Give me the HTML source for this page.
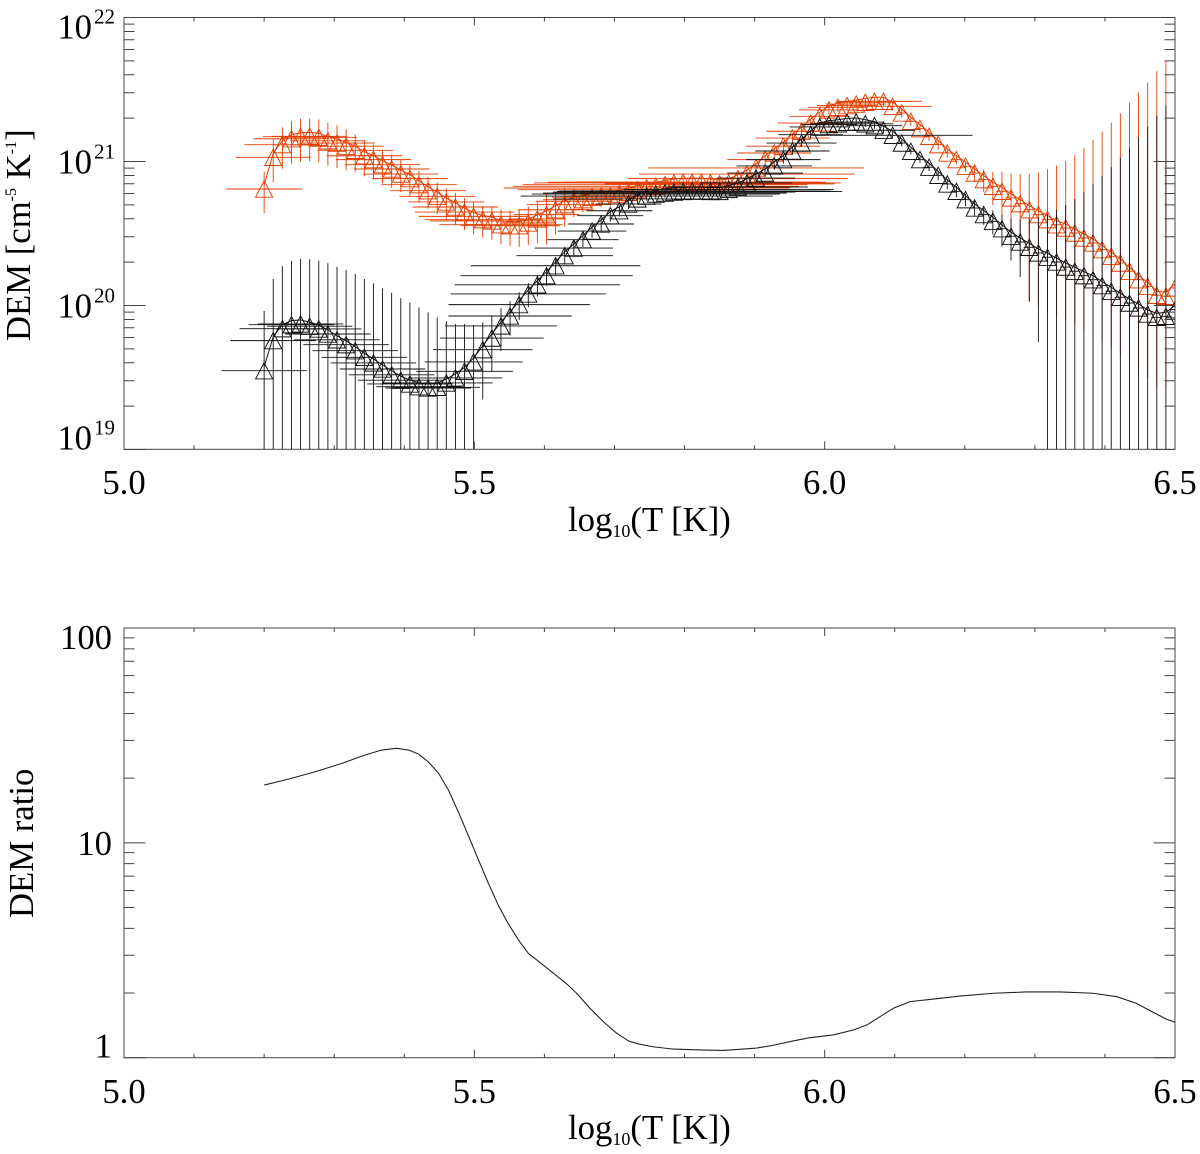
<!DOCTYPE html>
<html lang="en">
<head>
<meta charset="utf-8">
<title>DEM and DEM ratio</title>
<style>
html,body{margin:0;padding:0;background:#fff;}
#figure{display:block;width:1200px;height:1154px;}
text{font-family:"Liberation Serif","DejaVu Serif",serif;fill:#000;}
</style>
</head>
<body>
<svg id="figure" xmlns="http://www.w3.org/2000/svg" width="1200" height="1154" viewBox="0 0 1200 1154">
  <rect x="0" y="0" width="1200" height="1154" fill="#fff"/>
  <defs>
    <clipPath id="clip-top"><rect x="124" y="17.5" width="1051" height="431.8"/></clipPath>
    <clipPath id="clip-bottom"><rect x="124" y="628" width="1051" height="429.7"/></clipPath>
  </defs>
  <g id="top-panel"></g>
  <g id="bottom-panel"></g>
  <text x="568" y="531" font-size="34.7">log<tspan font-size="18" dy="6">10</tspan><tspan dy="-6">(T [K])</tspan></text>
  <text x="568" y="1139" font-size="34.7">log<tspan font-size="18" dy="6">10</tspan><tspan dy="-6">(T [K])</tspan></text>
  <text transform="translate(30,341) rotate(-90)" font-size="34.7">DEM [cm<tspan font-size="16" dy="-14">-5</tspan><tspan dy="14"> K</tspan><tspan font-size="16" dy="-14">-1</tspan><tspan dy="14">]</tspan></text>
  <text transform="translate(33,918) rotate(-90)" font-size="34.7">DEM ratio</text>
</svg>
<script>
// Temperature grid shared by both DEM series (log10 T)
var logTemps = [
5.200,5.213,5.226,5.239,5.252,5.265,5.278,5.291,5.304,5.317,
5.330,5.343,5.356,5.369,5.382,5.395,5.408,5.421,5.434,5.447,
5.460,5.473,5.486,5.499,5.512,5.525,5.538,5.551,5.564,5.577,
5.590,5.603,5.616,5.629,5.642,5.655,5.668,5.681,5.694,5.707,
5.720,5.733,5.746,5.759,5.772,5.785,5.798,5.811,5.824,5.837,
5.850,5.863,5.876,5.889,5.902,5.915,5.928,5.941,5.954,5.967,
5.980,5.993,6.006,6.019,6.032,6.045,6.058,6.071,6.084,6.097,
6.110,6.123,6.136,6.149,6.162,6.175,6.188,6.201,6.214,6.227,
6.240,6.253,6.266,6.279,6.292,6.305,6.318,6.331,6.344,6.357,
6.370,6.383,6.396,6.409,6.422,6.435,6.448,6.461,6.474,6.487,
6.500];

// Red series: log10 DEM
var redLogDem = [
20.809,21.029,21.117,21.158,21.172,21.175,21.168,21.144,21.128,21.106,
21.078,21.040,21.013,20.978,20.948,20.913,20.881,20.839,20.797,20.758,
20.719,20.684,20.649,20.619,20.596,20.587,20.561,20.554,20.554,20.573,
20.601,20.631,20.665,20.700,20.724,20.735,20.751,20.758,20.762,20.774,
20.786,20.804,20.816,20.828,20.839,20.851,20.856,20.856,20.856,20.851,
20.844,20.851,20.881,20.913,20.955,21.013,21.059,21.106,21.163,21.210,
21.267,21.314,21.358,21.376,21.388,21.399,21.411,21.418,21.418,21.383,
21.337,21.279,21.228,21.175,21.117,21.059,21.013,20.967,20.920,20.874,
20.828,20.793,20.747,20.707,20.665,20.631,20.596,20.561,20.538,20.503,
20.469,20.434,20.388,20.342,20.295,20.238,20.179,20.133,20.071,20.064,
20.122];
// Red series: fractional upper DEM error
var redErrUp = [
.32,.33,.32,.33,.33,.33,.33,.33,.33,.32,
.29,.28,.27,.26,.26,.25,.25,.25,.25,.25,
.25,.25,.25,.25,.25,.26,.27,.28,.29,.30,
.32,.38,.33,.30,.22,.18,.17,.16,.15,.14,
.12,.11,.10,.10,.10,.10,.10,.10,.10,.10,
.09,.08,.08,.08,.08,.08,.08,.08,.08,.08,
.07,.07,.07,.07,.07,.07,.07,.07,.07,.07,
.07,.07,.07,.07,.07,.07,.07,.08,.13,.18,
.26,.37,.48,.61,.77,.97,1.24,1.57,1.92,2.48,
3.2,4.19,5.6,7.47,9.96,13.8,19,25,35,42,
44];
// Red series: fractional lower DEM error
var redErrDown = [
.32,.33,.32,.33,.33,.33,.33,.33,.33,.32,
.29,.28,.27,.26,.26,.25,.25,.25,.25,.25,
.25,.25,.25,.25,.25,.26,.27,.28,.29,.30,
.32,.38,.33,.30,.22,.18,.17,.16,.15,.14,
.12,.11,.10,.10,.10,.10,.10,.10,.10,.10,
.09,.08,.08,.08,.08,.08,.08,.08,.08,.08,
.07,.07,.07,.07,.07,.07,.07,.07,.07,.07,
.07,.07,.07,.07,.07,.07,.07,.08,.13,.18,
.26,.37,.48,.61,.77,.77,.77,.77,.77,.77,
.77,.77,.77,.77,.77,.77,.77,.77,.77,.77,
.77];
// Red series: half-width of temperature error (dex)
var redErrT = [
.054,.054,.054,.054,.054,.054,.054,.054,.054,.054,
.054,.054,.054,.054,.054,.054,.054,.054,.054,.054,
.054,.061,.071,.078,.083,.088,.088,.071,.057,.040,
.040,.047,.054,.054,.054,.057,.057,.057,.057,.064,
.100,.171,.204,.204,.203,.200,.193,.183,.178,.171,
.164,.160,.157,.154,.154,.054,.053,.053,.053,.050,
.047,.043,.043,.043,.043,.043,.043,.054,.055,.056,
.008,.008,.008,.008,.008,.008,.008,.008,.008,.008,
.008,.008,.008,.008,.008,.008,.008,.008,.008,.008,
.008,.008,.008,.008,.008,.008,.008,.008,.008,.008,
.008];

// Black series: log10 DEM
var blackLogDem = [
19.547,19.756,19.839,19.867,19.872,19.856,19.837,19.802,19.762,19.728,
19.686,19.640,19.601,19.559,19.519,19.481,19.455,19.436,19.427,19.432,
19.462,19.497,19.543,19.608,19.693,19.774,19.858,19.927,20.006,20.080,
20.144,20.207,20.276,20.346,20.399,20.457,20.517,20.566,20.624,20.658,
20.705,20.740,20.760,20.774,20.781,20.788,20.792,20.795,20.795,20.792,
20.792,20.806,20.823,20.851,20.885,20.920,20.969,21.013,21.073,21.128,
21.186,21.240,21.256,21.262,21.272,21.274,21.262,21.249,21.217,21.182,
21.128,21.071,21.013,20.960,20.904,20.844,20.793,20.735,20.677,20.631,
20.585,20.533,20.481,20.441,20.404,20.365,20.335,20.302,20.267,20.238,
20.207,20.179,20.138,20.099,20.057,20.017,19.983,19.941,19.918,19.925,
19.971];
// Black series: fractional DEM error
var blackErr = [
1.60,1.68,1.72,1.77,1.83,1.92,1.97,2.10,2.21,2.30,
2.41,2.50,2.57,2.63,2.71,2.71,2.67,2.54,2.35,2.06,
1.69,1.37,1.13,.81,.55,.42,.33,.27,.22,.19,
.17,.15,.14,.13,.12,.11,.10,.10,.09,.09,
.08,.07,.07,.07,.07,.07,.07,.07,.07,.07,
.07,.06,.06,.06,.06,.06,.06,.06,.06,.06,
.06,.05,.05,.05,.05,.05,.05,.05,.05,.05,
.05,.05,.05,.06,.07,.08,.09,.10,.12,.15,
.19,.25,.32,.43,.58,.76,1.0,1.3,1.69,2.17,
2.8,3.6,4.78,6.26,8.3,11.05,14.3,19,24,28.3,
30.3];
// Black series: half-width of temperature error (dex)
var blackErrT = [
.061,.061,.061,.061,.061,.061,.061,.061,.061,.061,
.061,.061,.061,.061,.061,.061,.061,.061,.061,.061,
.066,.067,.069,.070,.071,.074,.080,.088,.101,.111,
.118,.123,.121,.069,.056,.051,.049,.047,.047,.047,
.047,.120,.180,.177,.174,.173,.180,.190,.185,.180,
.175,.150,.100,.064,.056,.054,.054,.053,.053,.050,
.046,.043,.040,.040,.040,.040,.040,.040,.045,.114,
.008,.008,.008,.008,.008,.008,.008,.008,.008,.008,
.008,.008,.008,.008,.008,.008,.008,.008,.008,.008,
.008,.008,.008,.008,.008,.008,.008,.008,.008,.008,
.008];

// Ratio curve (log10 T, log10 of ratio)
var ratioLogTemps = [
5.200,5.234,5.273,5.311,5.344,5.368,5.389,5.406,5.420,5.434,
5.449,5.463,5.477,5.491,5.506,5.520,5.534,5.548,5.563,5.577,
5.594,5.613,5.632,5.646,5.665,5.684,5.703,5.720,5.734,5.755,
5.784,5.822,5.855,5.879,5.903,5.927,5.955,5.979,6.012,6.041,
6.060,6.079,6.098,6.122,6.155,6.193,6.241,6.288,6.336,6.383,
6.417,6.445,6.469,6.488,6.500];
var ratioLogValues = [
1.269,1.296,1.331,1.370,1.409,1.432,1.440,1.432,1.414,1.378,
1.324,1.246,1.145,1.037,.920,.812,.711,.626,.548,.486,
.442,.393,.343,.300,.230,.168,.114,.078,.064,.051,
.040,.036,.034,.039,.045,.058,.078,.093,.106,.129,
.152,.191,.230,.261,.273,.287,.300,.306,.306,.300,
.284,.253,.211,.179,.165];

// Axis ticks and labels
var xMajorTicks = [5.0,5.5,6.0,6.5];
var xMajorLabels = ['5.0','5.5','6.0','6.5'];
var xMinorTicks = [5.1,5.2,5.3,5.4,5.6,5.7,5.8,5.9,6.1,6.2,6.3,6.4];
var topDecades = [22,21,20,19];
var bottomDecades = [2,1,0];
var bottomDecadeLabels = ['100','10','1'];
var minorMultipliers = [2,3,4,5,6,7,8,9];

var NS = 'http://www.w3.org/2000/svg';
var RED = '#e23e00';
var BLACK = '#111';
var AXIS = '#444';
var TRI_W = 8.5;
var TRI_H = 8.2;
var LINE_LIFT = 4;

function xScale(v){ return 124 + (v - 5) * (1051 / 1.5); }
function yTop(logv){ return 17.5 + (22 - logv) * 144; }
function yBottomLog(logr){ return 1057.7 - logr * 214.85; }

function make(tag, attrs, parent){
  var el = document.createElementNS(NS, tag);
  for (var k in attrs) el.setAttribute(k, attrs[k]);
  parent.appendChild(el);
  return el;
}

function drawXAxis(parent, yb, yt, labelBase, prefix){
  var i, t;
  for (i = 0; i < xMajorTicks.length; i++){
    var mx = xScale(xMajorTicks[i]);
    t = make('path', {d:'M'+mx+' '+yb+'V'+(yb-8)+'M'+mx+' '+yt+'V'+(yt+8), stroke:AXIS, 'stroke-width':1, fill:'none'}, parent);
    
    
    var lab = make('text', {x:mx, y:labelBase, 'font-size':34.7, 'text-anchor':'middle'}, parent);
    lab.textContent = xMajorLabels[i];
    
    
  }
  for (i = 0; i < xMinorTicks.length; i++){
    var nx = xScale(xMinorTicks[i]);
    t = make('path', {d:'M'+nx+' '+yb+'V'+(yb-4)+'M'+nx+' '+yt+'V'+(yt+4), stroke:AXIS, 'stroke-width':1, fill:'none'}, parent);
    
    
  }
}

function drawYTicks(parent, yFn, decades, prefix){
  for (var d = 0; d < decades.length; d++){
    var dec = decades[d];
    var py = yFn(dec);
    var t = make('path', {d:'M124 '+py+'H145.5M1175 '+py+'H1153.5', stroke:AXIS, 'stroke-width':1, fill:'none'}, parent);
    
    
    if (d === decades.length - 1) continue;
    for (var m = 0; m < minorMultipliers.length; m++){
      var my = yFn(dec - 1 + Math.log(minorMultipliers[m]) / Math.LN10);
      var tm = make('path', {d:'M124 '+my+'H134.5M1175 '+my+'H1164.5', stroke:AXIS, 'stroke-width':1, fill:'none'}, parent);
      
      
    }
  }
}

function labelOffset(i, n){ return i === 0 ? 21 : (i === n - 1 ? 0 : 12); }

function drawSeries(parent, name, color, logDem, errUp, errDown, errT){
  var group = make('g', {'clip-path':'url(#clip-top)'}, parent);
  
  
  var i, px, py;
  var pts = [];
  for (i = 0; i < logTemps.length; i++){
    px = xScale(logTemps[i]);
    py = yTop(logDem[i]);
    // the connecting line runs through the upper part of each triangle marker
    pts.push(px.toFixed(2) + ',' + (py - LINE_LIFT).toFixed(2));
    var value = Math.pow(10, logDem[i]);
    var upY = yTop(Math.log(value * (1 + errUp[i])) / Math.LN10);
    var lowFrac = 1 - errDown[i];
    var lowY = lowFrac > 0 ? yTop(Math.log(value * lowFrac) / Math.LN10) : 460;
    var vb = make('line', {x1:px, x2:px, y1:upY, y2:lowY, stroke:color, 'stroke-width':0.9}, group);
    
    
    var hb = make('line', {x1:xScale(logTemps[i] - errT[i]), x2:xScale(logTemps[i] + errT[i]), y1:py, y2:py, stroke:color, 'stroke-width':0.9}, group);
    
    
  }
  var line = make('polyline', {points:pts.join(' '), fill:'none', stroke:color, 'stroke-width':1}, group);
  
  
  for (i = 0; i < logTemps.length; i++){
    px = xScale(logTemps[i]);
    py = yTop(logDem[i]);
    var tri = make('polygon', {points:(px)+','+(py-TRI_H)+' '+(px+TRI_W)+','+(py+TRI_H)+' '+(px-TRI_W)+','+(py+TRI_H), fill:'none', stroke:color, 'stroke-width':0.95}, group);
    
    
  }
}

var topPanel = document.getElementById('top-panel');
var bottomPanel = document.getElementById('bottom-panel');

drawSeries(topPanel, 'red', RED, redLogDem, redErrUp, redErrDown, redErrT);
drawSeries(topPanel, 'black', BLACK, blackLogDem, blackErr, blackErr, blackErrT);

var topFrame = make('rect', {x:124, y:17.5, width:1051, height:431.8, fill:'none', stroke:AXIS, 'stroke-width':1}, topPanel);


drawXAxis(topPanel, 449.3, 17.5, 494, 'dem');
drawYTicks(topPanel, yTop, topDecades, 'dem');
for (var a = 0; a < topDecades.length; a++){
  var base = yTop(topDecades[a]) + labelOffset(a, topDecades.length);
  var mant = make('text', {x:92, y:base, 'font-size':34.7, 'text-anchor':'end'}, topPanel);
  mant.textContent = '10';
  
  
  var expo = make('text', {x:94, y:base - 15, 'font-size':21}, topPanel);
  expo.textContent = String(topDecades[a]);
  
  
}

var ratioPts = [];
for (var r = 0; r < ratioLogValues.length; r++){
  ratioPts.push(xScale(ratioLogTemps[r]).toFixed(2) + ',' + yBottomLog(ratioLogValues[r]).toFixed(2));
}
var ratioLine = make('polyline', {points:ratioPts.join(' '), fill:'none', stroke:'#222', 'stroke-width':1.1, 'stroke-linejoin':'round', 'clip-path':'url(#clip-bottom)'}, bottomPanel);



var bottomFrame = make('rect', {x:124, y:628, width:1051, height:429.7, fill:'none', stroke:AXIS, 'stroke-width':1}, bottomPanel);


drawXAxis(bottomPanel, 1057.7, 628, 1103, 'ratio');
drawYTicks(bottomPanel, yBottomLog, bottomDecades, 'ratio');
for (var b = 0; b < bottomDecades.length; b++){
  var rb = make('text', {x:112, y:yBottomLog(bottomDecades[b]) + labelOffset(b, bottomDecades.length), 'font-size':34.7, 'text-anchor':'end'}, bottomPanel);
  rb.textContent = bottomDecadeLabels[b];
  
  
}
</script>
</body>
</html>
